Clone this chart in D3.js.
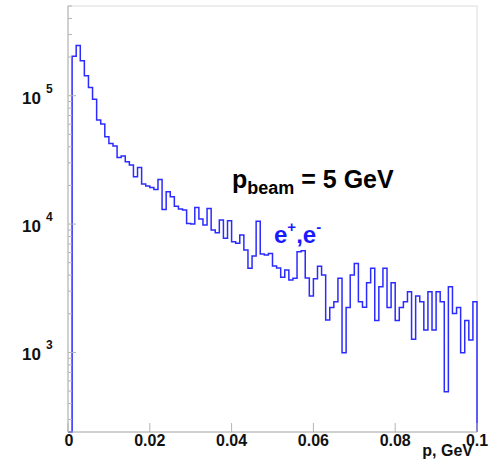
<!DOCTYPE html>
<html><head><meta charset="utf-8">
<script src="https://cdn.jsdelivr.net/npm/d3@7/dist/d3.min.js"></script>
<style>body{margin:0;background:#fff}svg{display:block}</style>
</head><body>
<script>
// Histogram: 100 bins from 0 to 0.1 GeV (bin width 0.001)
const binLow = 0, binHigh = 0.1, nBins = 100;
const counts = [
  0, 203000, 246600, 187000, 142900, 116100, 94000, 64600, 60100, 47850,
  42500, 40500, 33050, 33900, 30550, 28800, 23350, 27650, 20480, 19770,
  19300, 18620, 22280, 13010, 17830, 16320, 13800, 13090, 12850, 10120,
  10000, 13490, 10940, 9820, 13250, 8980, 8550, 10740, 7740, 10610,
  7280, 7080, 8210, 6270, 4520, 5630, 10500, 5840, 5740, 5910,
  4710, 4540, 3850, 4380, 3660, 3780, 6080, 6200, 3800, 2750,
  3750, 4700, 4010, 1790, 2240, 2480, 3780, 995, 2240, 4010,
  4940, 2480, 2250, 3490, 4520, 1770, 3250, 4520, 2240, 3490,
  1770, 2240, 2480, 2970, 1265, 2750, 2480, 1495, 2970, 1495,
  2970, 2480, 494, 3250, 2015, 2240, 995, 1770, 1250, 2480
];
const xTicks = [0, 0.02, 0.04, 0.06, 0.08, 0.1];
const xTickLabels = ["0", "0.02", "0.04", "0.06", "0.08", "0.1"];
const yMajor = [1e3, 1e4, 1e5];
const yExponents = ["3", "4", "5"];
const yDomain = [240, 5e5];
const xTitle = "p, GeV";

const W = 496, H = 462;
const L = 68, R = 477, T = 6, B = 432;
const FONT = "Liberation Sans, Arial, sans-serif";
const svg = d3.select("body").append("svg").attr("width", W).attr("height", H);
svg.append("rect").attr("width", W).attr("height", H).attr("fill", "#fff");

const x = d3.scaleLinear().domain([binLow, binHigh]).range([L, R]);
const y = d3.scaleLog().domain(yDomain).range([B, T]);
const bw = (binHigh - binLow) / nBins;

// frame
svg.append("rect").attr("x", L).attr("y", T).attr("width", R - L).attr("height", B - T)
  .attr("fill", "none").attr("stroke", "#dcdcdc").attr("stroke-width", 1);

// histogram outline
const yy = v => (v <= yDomain[0] ? B : Math.max(T, y(v)));
let d = `M${x(binLow)},${B}`;
counts.forEach((v, i) => {
  d += `L${x(binLow + i * bw)},${yy(v)}L${x(binLow + (i + 1) * bw)},${yy(v)}`;
});
d += `L${x(binHigh)},${B}`;
svg.append("path").attr("d", d).attr("fill", "none")
  .attr("stroke", "#2b2bff").attr("stroke-width", 1.5).attr("stroke-linejoin", "miter");

// axes lines
const axisColor = "#b4b4b4";
svg.append("line").attr("x1", L).attr("x2", L).attr("y1", T).attr("y2", B).attr("stroke", axisColor);
svg.append("line").attr("x1", L).attr("x2", R).attr("y1", B).attr("y2", B).attr("stroke", axisColor);

// y ticks (log)
const yMinor = [];
for (let e = 2; e <= 5; e++) for (let m = 1; m <= 9; m++) {
  const v = m * Math.pow(10, e);
  if (v >= yDomain[0] && v <= yDomain[1]) yMinor.push(v);
}
yMinor.forEach(v => {
  const major = yMajor.includes(v);
  svg.append("line").attr("x1", L).attr("x2", L + (major ? 8 : 4))
    .attr("y1", y(v)).attr("y2", y(v)).attr("stroke", axisColor);
});
yMajor.forEach((v, i) => {
  svg.append("text").attr("x", 41).attr("y", y(v) + 8)
    .attr("text-anchor", "end").attr("font-family", FONT)
    .attr("font-weight", "bold").attr("font-size", 17).attr("fill", "#111").text("10");
  svg.append("text").attr("x", 46).attr("y", y(v) - 3)
    .attr("font-family", FONT)
    .attr("font-weight", "bold").attr("font-size", 12).attr("fill", "#111").text(yExponents[i]);
});

// x ticks
xTicks.forEach((v, i) => {
  svg.append("line").attr("x1", x(v)).attr("x2", x(v)).attr("y1", B).attr("y2", B - 9).attr("stroke", axisColor);
  svg.append("text").attr("x", x(v) + (i === 0 ? 1 : 0)).attr("y", B + 14)
    .attr("text-anchor", "middle").attr("font-family", FONT)
    .attr("font-weight", "bold").attr("font-size", 16).attr("fill", "#111").text(xTickLabels[i]);
});
svg.append("text").attr("x", 473).attr("y", 456).attr("text-anchor", "end")
  .attr("font-family", FONT).attr("font-weight", "bold")
  .attr("font-size", 16).attr("fill", "#111").text(xTitle);

// annotations
const a1 = svg.append("text").attr("x", 232).attr("y", 188)
  .attr("font-family", FONT).attr("font-weight", "bold")
  .attr("font-size", 25).attr("fill", "#000");
a1.append("tspan").text("p");
a1.append("tspan").attr("font-size", 18).attr("dy", 6).text("beam");
a1.append("tspan").attr("dy", -6).text(" = 5 GeV");

const a2 = svg.append("text").attr("x", 274).attr("y", 243)
  .attr("font-family", FONT).attr("font-weight", "bold")
  .attr("font-size", 24).attr("fill", "#1a1aff");
a2.append("tspan").text("e");
a2.append("tspan").attr("font-size", 15).attr("dy", -11).text("+");
a2.append("tspan").attr("dy", 11).text(",e");
a2.append("tspan").attr("font-size", 15).attr("dy", -11).text("-");
</script>
</body></html>
